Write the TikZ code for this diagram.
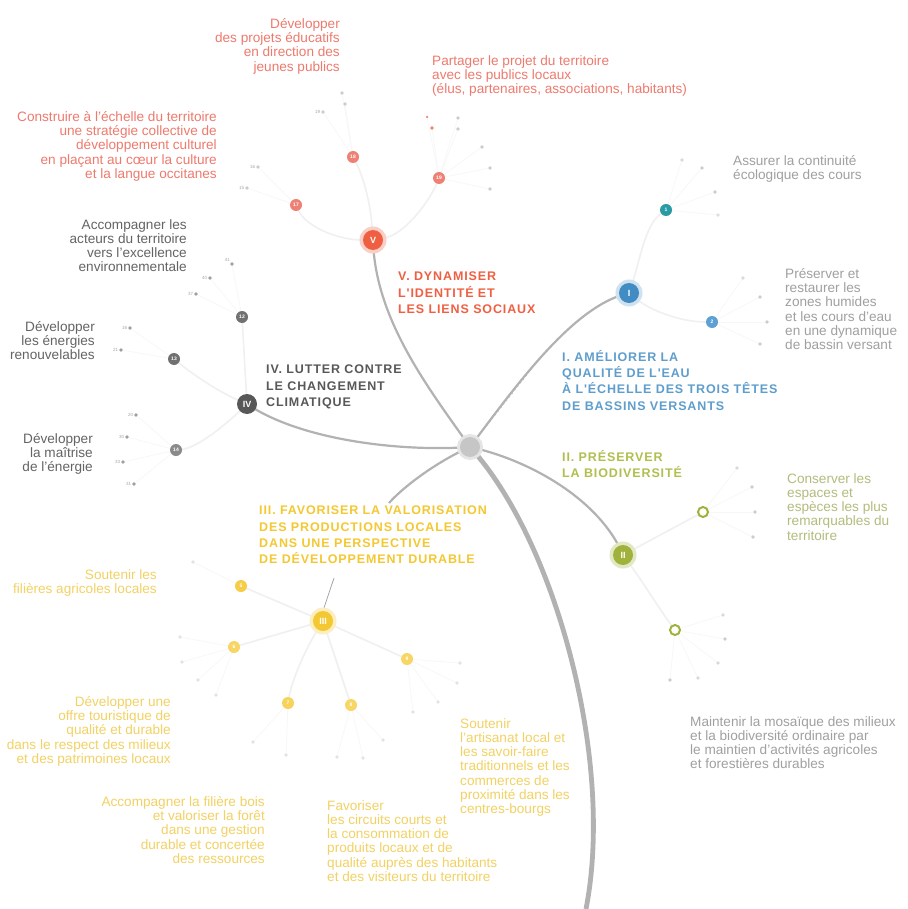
\documentclass[tikz,border=0pt]{standalone}
\usepackage{fontspec}
\setmainfont{Liberation Sans}
\newfontfamily\labfont[LetterSpace=7]{Liberation Sans}
\usetikzlibrary{backgrounds}
\definecolor{cRed}{RGB}{239,96,66}
\definecolor{cRedTxt}{RGB}{238,122,110}
\definecolor{cRedSub}{RGB}{238,128,116}
\definecolor{cBlue}{RGB}{66,140,196}
\definecolor{cBlueLab}{RGB}{95,158,204}
\definecolor{cTeal}{RGB}{40,155,165}
\definecolor{cBlueSub}{RGB}{92,160,212}
\definecolor{cDark}{RGB}{88,88,88}
\definecolor{cGreyTxt}{RGB}{100,100,100}
\definecolor{cLightTxt}{RGB}{160,160,160}
\definecolor{cGreen}{RGB}{160,178,60}
\definecolor{cGreenLab}{RGB}{178,190,78}
\definecolor{cGreenTxt}{RGB}{180,188,125}
\definecolor{cYellow}{RGB}{244,200,50}
\definecolor{cYellowTxt}{RGB}{242,210,100}
\definecolor{cTrunk}{RGB}{178,178,178}
\tikzset{
  mainnode/.style={circle, inner sep=0pt, minimum size=20pt, text=white, font=\fontsize{9}{9}\selectfont\bfseries},
  subnode/.style={circle, inner sep=0pt, minimum size=12pt, text=white, font=\fontsize{5}{5}\selectfont\bfseries},
  leaf/.style={circle, inner sep=0pt, minimum size=3.6pt, fill=gray!40},
  darkleaf/.style={leaf, fill=gray!75},
  paleleaf/.style={leaf, fill=gray!22},
  redleaf/.style={leaf, fill=cRed!80},
  tag/.style={font=\fontsize{4.5}{4.5}\selectfont, text=gray!70, inner sep=0.6pt},
  branch/.style={draw=cTrunk, line width=2.2pt},
  trunk/.style={draw=cTrunk, line width=4.8pt},
  twig/.style={draw=gray!12, line width=1.6pt},
  stem/.style={draw=gray!6, line width=0.7pt},
  ticks/.style={draw=gray!60, line width=0.5pt, dash pattern=on 1.5pt off 3pt},
  body/.style={inner sep=0pt, font=\fontsize{13.6}{14.3}\selectfont},
  lab/.style={inner sep=0pt, align=left, anchor=north west, font=\labfont\fontsize{12.5}{16.3}\selectfont\bfseries},
  halo/.style={circle, inner sep=0pt, minimum size=27pt}
}
\begin{document}
\begin{tikzpicture}[x=1pt,y=-1pt]
\useasboundingbox (0,0) rectangle (907,909);

% ---------- hub ----------
\node[circle, fill=gray!20, inner sep=0pt, minimum size=26pt] (hubhalo) at (470,447) {};
\node[circle, fill=gray!45, inner sep=0pt, minimum size=20pt] (hub) at (470,447) {};
\coordinate (trunkend) at (586,909);
\coordinate (IIIend) at (389,503);
\coordinate (IIIlink) at (334,578);
\coordinate (Itick) at (545,352);

% ---------- main nodes ----------
\node[halo, fill=cRed!30] (Vh) at (373,240) {};
\node[mainnode, fill=cRed] (V) at (373,240) {V};
\node[halo, fill=cBlue!25] (Ih) at (629,293) {};
\node[mainnode, fill=cBlue] (I) at (629,293) {I};
\node[mainnode, fill=cDark] (IV) at (247,404) {IV};
\node[halo, fill=cGreen!30] (IIh) at (623,555) {};
\node[mainnode, fill=cGreen] (II) at (623,555) {II};
\node[halo, fill=cYellow!30] (IIIh) at (323,621) {};
\node[mainnode, fill=cYellow] (III) at (323,621) {III};

% ---------- sub nodes ----------
\node[subnode, fill=cRedSub] (Va) at (296,205) {17};
\node[subnode, fill=cRedSub] (Vb) at (353,157) {18};
\node[subnode, fill=cRedSub] (Vc) at (439,178) {19};
\node[subnode, fill=cTeal] (Ia) at (666,210) {1};
\node[subnode, fill=cBlueSub] (Ib) at (712,322) {2};
\node[subnode, fill=cDark!85] (IVa) at (242,317) {12};
\node[subnode, fill=cDark!85] (IVb) at (174,359) {13};
\node[subnode, fill=cDark!70] (IVc) at (176,450) {14};
\node[subnode, fill=white, draw=cGreen, line width=2pt, minimum size=10pt] (IIa) at (703,512) {};
\node[subnode, fill=white, draw=cGreen, line width=2pt, minimum size=10pt] (IIb) at (675,630) {};
\node[subnode, fill=cYellow!90] (IIIa) at (241,586) {5};
\node[subnode, fill=cYellow!75] (IIIb) at (234,647) {6};
\node[subnode, fill=cYellow!80] (IIIc) at (288,703) {7};
\node[subnode, fill=cYellow!75] (IIIdd) at (351,705) {8};
\node[subnode, fill=cYellow!75] (IIIe) at (407,659) {9};

% ---------- leaves ----------
\node[leaf, label={[tag]left:16}] (va1) at (258,167) {};
\node[leaf, label={[tag]left:15}] (va2) at (247,188) {};
\node[leaf] (vb1) at (342,93) {};
\node[leaf] (vb2) at (345,104) {};
\node[leaf, label={[tag]left:19}] (vb3) at (323,112) {};
\node[redleaf, minimum size=2.5pt] (vc1) at (427,117) {};
\node[redleaf] (vc2) at (432,128) {};
\node[leaf] (vc3) at (458,118) {};
\node[leaf] (vc4) at (458,129) {};
\node[leaf] (vc5) at (482,147) {};
\node[leaf] (vc6) at (490,168) {};
\node[leaf] (vc7) at (490,189) {};
\node[leaf, fill=gray!30] (ia1) at (682,160) {};
\node[leaf] (ia2) at (702,168) {};
\node[leaf] (ia3) at (715,192) {};
\node[leaf, fill=gray!25] (ia4) at (718,215) {};
\node[leaf, fill=gray!30] (ib1) at (743,278) {};
\node[leaf] (ib2) at (760,297) {};
\node[leaf] (ib3) at (767,322) {};
\node[leaf] (ib4) at (760,344) {};
\node[darkleaf, label={[tag]above left:41}] (iva1) at (232,264) {};
\node[darkleaf, label={[tag]left:40}] (iva2) at (210,278) {};
\node[darkleaf, label={[tag]left:37}] (iva3) at (196,294) {};
\node[darkleaf, label={[tag]left:16}] (ivb1) at (130,328) {};
\node[darkleaf, label={[tag]left:21}] (ivb2) at (121,350) {};
\node[darkleaf, label={[tag]left:20}] (ivc1) at (136,415) {};
\node[darkleaf, label={[tag]left:30}] (ivc2) at (127,437) {};
\node[darkleaf, label={[tag]left:33}] (ivc3) at (123,462) {};
\node[darkleaf, label={[tag]left:31}] (ivc4) at (134,484) {};
\node[leaf, fill=gray!30] (iia1) at (737,468) {};
\node[leaf] (iia2) at (752,487) {};
\node[leaf] (iia3) at (755,512) {};
\node[leaf] (iia4) at (753,537) {};
\node[leaf, fill=gray!30] (iib1) at (723,615) {};
\node[leaf] (iib2) at (725,639) {};
\node[leaf, fill=gray!30] (iib3) at (718,663) {};
\node[leaf, fill=gray!30] (iib4) at (698,678) {};
\node[leaf] (iib5) at (670,680) {};
\node[paleleaf] (iiia1) at (193,562) {};
\node[paleleaf] (iiib1) at (180,637) {};
\node[paleleaf] (iiib2) at (182,662) {};
\node[paleleaf] (iiib3) at (198,680) {};
\node[paleleaf] (iiib4) at (216,695) {};
\node[paleleaf] (iiic1) at (253,742) {};
\node[paleleaf] (iiic2) at (286,755) {};
\node[paleleaf] (iiid1) at (337,757) {};
\node[paleleaf] (iiid2) at (363,758) {};
\node[paleleaf] (iiid3) at (383,740) {};
\node[paleleaf] (iiie1) at (413,712) {};
\node[paleleaf] (iiie2) at (438,702) {};
\node[paleleaf] (iiie3) at (457,683) {};
\node[paleleaf] (iiie4) at (460,663) {};

% ---------- labels ----------
\node[lab, text=cRed] (labV) at (398,272) {V. DYNAMISER\\L'IDENTITÉ ET\\LES LIENS SOCIAUX};
\node[lab, text=cDark] (labIV) at (266,365) {IV. LUTTER CONTRE\\LE CHANGEMENT\\CLIMATIQUE};
\node[lab, text=cBlueLab] (labI) at (562,350) {I. AMÉLIORER LA\\QUALITÉ DE L'EAU\\À L'ÉCHELLE DES TROIS TÊTES\\DE BASSINS VERSANTS};
\node[lab, text=cGreenLab] (labII) at (562,450) {II. PRÉSERVER\\LA BIODIVERSITÉ};
\node[lab, text=cYellow] (labIII) at (259,506) {III. FAVORISER LA VALORISATION\\DES PRODUCTIONS LOCALES\\DANS UNE PERSPECTIVE\\DE DÉVELOPPEMENT DURABLE};

% ---------- texts ----------
\node[body, align=right, anchor=north east, text=cRedTxt] (tV1) at (340,18) {Développer\\des projets éducatifs\\en direction des\\jeunes publics};
\node[body, align=left, anchor=north west, text=cRedTxt] (tV2) at (432,55) {Partager le projet du territoire\\avec les publics locaux\\(élus, partenaires, associations, habitants)};
\node[body, align=right, anchor=north east, text=cRedTxt] (tV3) at (217,111) {Construire à l'échelle du territoire\\une stratégie collective de\\développement culturel\\en plaçant au cœur la culture\\et la langue occitanes};
\node[body, align=right, anchor=north east, text=cGreyTxt] (tIV1) at (187,219) {Accompagner les\\acteurs du territoire\\vers l'excellence\\environnementale};
\node[body, align=right, anchor=north east, text=cGreyTxt] (tIV2) at (95,321) {Développer\\les énergies\\renouvelables};
\node[body, align=right, anchor=north east, text=cGreyTxt] (tIV3) at (93,433) {Développer\\la maîtrise\\de l'énergie};
\node[body, align=left, anchor=north west, text=cLightTxt] (tI1) at (733,155) {Assurer la continuité\\écologique des cours};
\node[body, align=left, anchor=north west, text=cLightTxt] (tI2) at (785,268) {Préserver et\\restaurer les\\zones humides\\et les cours d'eau\\en une dynamique\\de bassin versant};
\node[body, align=left, anchor=north west, text=cGreenTxt] (tII1) at (787,473) {Conserver les\\espaces et\\espèces les plus\\remarquables du\\territoire};
\node[body, align=left, anchor=north west, text=cLightTxt] (tII2) at (690,716) {Maintenir la mosaïque des milieux\\et la biodiversité ordinaire par\\le maintien d'activités agricoles\\et forestières durables};
\node[body, align=right, anchor=north east, text=cYellowTxt] (tIII1) at (157,569) {Soutenir les\\filières agricoles locales};
\node[body, align=right, anchor=north east, text=cYellowTxt] (tIII2) at (171,696) {Développer une\\offre touristique de\\qualité et durable\\dans le respect des milieux\\et des patrimoines locaux};
\node[body, align=right, anchor=north east, text=cYellowTxt] (tIII3) at (265,796) {Accompagner la filière bois\\et valoriser la forêt\\dans une gestion\\durable et concertée\\des ressources};
\node[body, align=left, anchor=north west, text=cYellowTxt] (tIII4) at (327,800) {Favoriser\\les circuits courts et\\la consommation de\\produits locaux et de\\qualité auprès des habitants\\et des visiteurs du territoire};
\node[body, align=left, anchor=north west, text=cYellowTxt] (tIII5) at (460,718) {Soutenir\\l'artisanat local et\\les savoir-faire\\traditionnels et les\\commerces de\\proximité dans les\\centres-bourgs};

% ---------- connectors (behind) ----------
\begin{scope}[on background layer]
\fill[white] (0,0) rectangle (907,909);
\draw[trunk] (hub.center) .. controls (555,540) and (615,760) .. (trunkend);
\draw[branch] (hub.center) .. controls (430,390) and (375,320) .. (V.center);
\draw[ticks] (hub.center) .. controls (430,390) and (375,320) .. (V.center);
\draw[branch] (hub.center) .. controls (520,380) and (575,305) .. (I.center);
\draw[ticks] (hub.center) -- (Itick);
\draw[branch] (hub.center) .. controls (400,452) and (300,440) .. (IV.center);
\draw[branch] (hub.center) .. controls (530,460) and (600,500) .. (II.center);
\draw[branch] (hub.center) .. controls (440,460) and (405,485) .. (IIIend);
\draw[draw=gray!70, line width=0.8pt] (IIIlink) -- (III.north);

\draw[twig] (V) .. controls (335,240) and (305,225) .. (Va);
\draw[twig] (V) .. controls (370,195) and (360,170) .. (Vb);
\draw[twig] (V) .. controls (405,235) and (430,200) .. (Vc);
\draw[twig] (I) .. controls (640,260) and (645,225) .. (Ia);
\draw[twig] (I) .. controls (650,310) and (680,322) .. (Ib);
\draw[twig] (IV) -- (IVa);
\draw[twig] (IV) .. controls (215,390) and (190,372) .. (IVb);
\draw[twig] (IV) .. controls (220,430) and (195,448) .. (IVc);
\draw[twig] (II) -- (IIa);
\draw[twig] (II) .. controls (645,585) and (660,610) .. (IIb);
\draw[twig] (III) -- (IIIa);
\draw[twig] (III) -- (IIIb);
\draw[twig] (III) .. controls (305,650) and (292,680) .. (IIIc);
\draw[twig] (III) -- (IIIdd);
\draw[twig] (III) -- (IIIe);

\foreach \s/\l in {Va/va1,Va/va2,Vb/vb1,Vb/vb2,Vb/vb3,Vc/vc1,Vc/vc2,Vc/vc3,Vc/vc4,Vc/vc5,Vc/vc6,Vc/vc7,
  Ia/ia1,Ia/ia2,Ia/ia3,Ia/ia4,Ib/ib1,Ib/ib2,Ib/ib3,Ib/ib4,
  IVa/iva1,IVa/iva2,IVa/iva3,IVb/ivb1,IVb/ivb2,IVc/ivc1,IVc/ivc2,IVc/ivc3,IVc/ivc4,
  IIa/iia1,IIa/iia2,IIa/iia3,IIa/iia4,IIb/iib1,IIb/iib2,IIb/iib3,IIb/iib4,IIb/iib5,
  IIIa/iiia1,IIIb/iiib1,IIIb/iiib2,IIIb/iiib3,IIIb/iiib4,IIIc/iiic1,IIIc/iiic2,
  IIIdd/iiid1,IIIdd/iiid2,IIIdd/iiid3,IIIe/iiie1,IIIe/iiie2,IIIe/iiie3,IIIe/iiie4}
  {\draw[stem] (\s) -- (\l);}
\end{scope}
\end{tikzpicture}
\end{document}
